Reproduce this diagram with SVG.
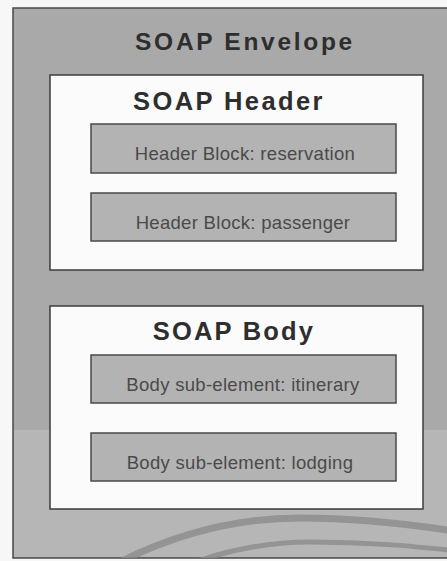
<svg xmlns="http://www.w3.org/2000/svg" width="447" height="561" viewBox="0 0 447 561">
  <style>
    .env { fill: #a9a9a9; stroke: #4a4a4a; stroke-width: 1.5; }
    .sect { fill: #fbfbfb; stroke: #3c3c3c; stroke-width: 1.5; }
    .block { fill: #b3b3b3; stroke: #4a4a4a; stroke-width: 1.5; }
    .title { font-family: "Liberation Sans", Arial, sans-serif; font-weight: bold; fill: #2e2e2e; text-anchor: middle; }
    .label { font-family: "Liberation Sans", Arial, sans-serif; font-size: 18.5px; fill: #4a4a4a; text-anchor: middle; letter-spacing: 0.3px; }
  </style>
  <defs>
    <clipPath id="envclip"><rect x="13" y="8" width="434" height="550"/></clipPath>
  </defs>
  <rect x="0" y="0" width="447" height="561" fill="#f7f7f7"/>
  <g id="envelope">
    <rect class="env" x="13" y="8" width="440" height="550"/>
    <rect x="14" y="430" width="433" height="127" fill="#bcbcbc" opacity="0.7"/>
    <g clip-path="url(#envclip)" fill="none" stroke="#8c8c8c" opacity="0.8">
      <path d="M120,562 C180,532 240,518 300,518 C360,518 410,524 460,532" stroke-width="7"/>
      <path d="M195,562 C235,548 270,542 310,542 C370,542 410,546 460,551" stroke-width="5"/>
    </g>
    <text class="title" x="245" y="50" font-size="24.5" letter-spacing="2.7">SOAP Envelope</text>
  </g>
  <g id="header">
    <rect class="sect" x="50" y="75" width="373" height="195"/>
    <text class="title" x="229" y="110" font-size="25.5" letter-spacing="2.4">SOAP Header</text>
  </g>
  <g id="header-block-reservation">
    <rect class="block" x="91" y="124" width="305" height="49"/>
    <text class="label" x="245" y="160">Header Block: reservation</text>
  </g>
  <g id="header-block-passenger">
    <rect class="block" x="91" y="193" width="305" height="48"/>
    <text class="label" x="243" y="229">Header Block: passenger</text>
  </g>
  <g id="body">
    <rect class="sect" x="50" y="306" width="373" height="203"/>
    <text class="title" x="234" y="340" font-size="25.5" letter-spacing="2.2">SOAP Body</text>
  </g>
  <g id="body-sub-element-itinerary">
    <rect class="block" x="91" y="355" width="305" height="48"/>
    <text class="label" x="243" y="391">Body sub-element: itinerary</text>
  </g>
  <g id="body-sub-element-lodging">
    <rect class="block" x="91" y="433" width="305" height="48"/>
    <text class="label" x="240" y="469">Body sub-element: lodging</text>
  </g>
  <g id="connectors"></g>
</svg>
